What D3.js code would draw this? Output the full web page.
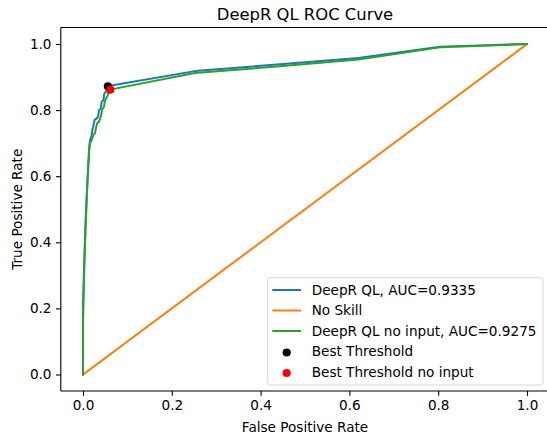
<!DOCTYPE html>
<html><head><meta charset="utf-8">
<script src="https://cdn.jsdelivr.net/npm/d3@7"></script>
<style>body{margin:0;background:#fff}svg{display:block;font-family:"DejaVu Sans",sans-serif}</style>
</head><body><svg id="c" width="547" height="441"></svg>
<script>
const title = "DeepR QL ROC Curve";
const xLabel = "False Positive Rate";
const yLabel = "True Positive Rate";
const tickValues = [0, 0.2, 0.4, 0.6, 0.8, 1.0];
const seriesNames = ["DeepR QL, AUC=0.9335", "No Skill", "DeepR QL no input, AUC=0.9275"];
const pointNames = ["Best Threshold", "Best Threshold no input"];
const deeprFpr = [0,0,0.003,0.006,0.009,0.012,0.014,0.016,0.019,0.021,0.023,0.026,0.031,0.034,0.036,0.040,0.042,0.046,0.048,0.052,0.054,0.057,0.252,0.436,0.620,0.804,1];
const deeprTpr = [0,0.21,0.35,0.47,0.56,0.64,0.69,0.71,0.72,0.74,0.75,0.77,0.775,0.78,0.80,0.805,0.825,0.83,0.85,0.855,0.865,0.873,0.918,0.938,0.958,0.992,1];
const noSkillFpr = [0,1];
const noSkillTpr = [0,1];
const noInFpr = [0,0,0.003,0.006,0.009,0.012,0.014,0.016,0.020,0.023,0.027,0.029,0.032,0.036,0.040,0.043,0.047,0.050,0.054,0.058,0.061,0.252,0.436,0.620,0.804,1];
const noInTpr = [0,0.15,0.33,0.45,0.55,0.63,0.68,0.70,0.71,0.725,0.73,0.745,0.76,0.765,0.78,0.80,0.81,0.83,0.84,0.852,0.862,0.912,0.932,0.953,0.99,1];
const bestFpr = [0.056, 0.0615];
const bestTpr = [0.872, 0.862];
const lineColors = ["#1f77b4", "#ff7f0e", "#2ca02c"];
const pointColors = ["#000000", "#ff0000"];

const svg = d3.select("#c");
const L = 60.8, R = 549.2, T = 27.5, B = 391;
const x = d3.scaleLinear().domain([-0.05, 1.05]).range([L, R]);
const y = d3.scaleLinear().domain([-0.05, 1.05]).range([B, T]);
const fs = 13.6;

const clipId = "clip";
svg.append("clipPath").attr("id", clipId).append("rect").attr("x", L).attr("y", T).attr("width", R - L).attr("height", B - T);
const plot = svg.append("g").attr("clip-path", `url(#${clipId})`);
const line = d3.line().x(d => x(d[0])).y(d => y(d[1]));
const series = [
  d3.zip(deeprFpr, deeprTpr),
  d3.zip(noSkillFpr, noSkillTpr),
  d3.zip(noInFpr, noInTpr)
];
series.forEach((s, i) => {
  plot.append("path").datum(s).attr("d", line).attr("fill", "none")
    .attr("stroke", lineColors[i]).attr("stroke-width", 2).attr("stroke-linejoin", "round").attr("stroke-linecap", "square");
});
bestFpr.forEach((f, i) => {
  plot.append("circle").attr("cx", x(f)).attr("cy", y(bestTpr[i])).attr("r", 4.1).attr("fill", pointColors[i]);
});

// axes
const xAxis = d3.axisBottom(x).tickValues(tickValues).tickFormat(d3.format(".1f")).tickSizeOuter(0).tickSize(4.8).tickPadding(4.5);
const gx = svg.append("g").attr("transform", `translate(0,${B})`).call(xAxis);
const yAxis = d3.axisLeft(y).tickValues(tickValues).tickFormat(d3.format(".1f")).tickSizeOuter(0).tickSize(4.8).tickPadding(4.5);
const gy = svg.append("g").attr("transform", `translate(${L},0)`).call(yAxis);
[gx, gy].forEach(g => {
  g.selectAll("text").attr("font-size", fs).attr("fill", "#000").attr("font-family", "DejaVu Sans");
  g.selectAll("line").attr("stroke", "#000").attr("stroke-width", 1.1);
  g.select(".domain").remove();
});
svg.append("line").attr("x1", L).attr("x2", L).attr("y1", T).attr("y2", B).attr("stroke", "#000").attr("stroke-width", 1.1);
svg.append("line").attr("x1", L).attr("x2", R).attr("y1", B).attr("y2", B).attr("stroke", "#000").attr("stroke-width", 1.1);
svg.append("line").attr("x1", L).attr("x2", R).attr("y1", T).attr("y2", T).attr("stroke", "#000").attr("stroke-width", 1.1);
svg.append("line").attr("x1", R).attr("x2", R).attr("y1", T).attr("y2", B).attr("stroke", "#000").attr("stroke-width", 1.1);

svg.append("text").attr("x", (L + R) / 2).attr("y", 20).attr("text-anchor", "middle").attr("font-size", 16.4).text(title);
svg.append("text").attr("x", (L + R) / 2).attr("y", 432).attr("text-anchor", "middle").attr("font-size", fs).text(xLabel);
svg.append("text").attr("transform", `translate(22,${(T + B) / 2}) rotate(-90)`).attr("text-anchor", "middle").attr("font-size", fs).text(yLabel);

// legend
const lg = svg.append("g");
lg.append("rect").attr("x", 267.7).attr("y", 277.7).attr("width", 275.3).attr("height", 107.3).attr("rx", 2.5)
  .attr("fill", "rgba(255,255,255,0.8)").attr("stroke", "#d6d6d6").attr("stroke-width", 1);
const rowY = [290, 310.5, 331, 351.5, 372];
const labels = seriesNames.concat(pointNames);
labels.forEach((lab, i) => {
  const yy = rowY[i];
  if (i < 3) {
    lg.append("line").attr("x1", 272.3).attr("x2", 301).attr("y1", yy).attr("y2", yy).attr("stroke", lineColors[i]).attr("stroke-width", 2);
  } else {
    lg.append("circle").attr("cx", 286.7).attr("cy", yy + 1).attr("r", 4.1).attr("fill", pointColors[i - 3]);
  }
  lg.append("text").attr("x", 311.7).attr("y", yy).attr("dy", "0.36em").attr("font-size", fs).text(lab);
});
</script></body></html>
